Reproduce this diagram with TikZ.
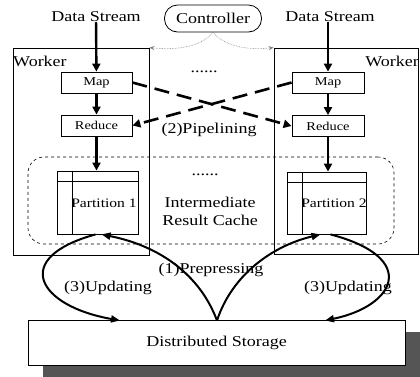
\documentclass[tikz,border=0pt]{standalone}
\usepackage{fontspec}
\usepackage{graphicx}
\setmainfont{Liberation Serif}
\usetikzlibrary{arrows.meta}
\definecolor{shadowgray}{HTML}{555555}
% labels are set slightly wide
\newcommand{\wtext}[1]{\scalebox{1.2}[1]{#1}}
\begin{document}
\begin{tikzpicture}[x=1pt,y=-1pt,
  txt/.style={inner sep=0pt,font=\fontsize{15}{17}\selectfont},
  smalltxt/.style={inner sep=0pt,font=\fontsize{12}{14}\selectfont},
  frame/.style={draw,line width=0.8pt,inner sep=0pt},
  flow/.style={line width=2.4pt,-{Triangle[length=8pt,width=8pt]}},
  pipe/.style={line width=2.6pt,dash pattern=on 15pt off 8pt,-{Triangle[length=8pt,width=8pt]}},
  ctrl/.style={densely dotted,line width=0.6pt,gray,-{Stealth[length=5pt,width=4pt]}},
  loop/.style={line width=2pt,-{Triangle[length=9pt,width=7pt]}}]
\useasboundingbox (0,0) rectangle (420,376);

% input streams and controller
\node[txt] (ds1) at (96,17) {\wtext{Data Stream}};
\node[txt] (ds2) at (330,17) {\wtext{Data Stream}};
\node[frame,rounded corners=13pt,minimum width=97,minimum height=27] (ctl) at (213,18.5) {};
\node[txt] (ctltxt) at (213,18.5) {\wtext{Controller}};

% worker frames
\node[frame,minimum width=136,minimum height=207] (w1) at (81,151.5) {};
\node[frame,minimum width=144,minimum height=206] (w2) at (346,151) {};
\node[txt,anchor=west] (w1l) at (13,61) {\wtext{Worker}};
\node[txt,anchor=east] (w2l) at (419,61) {\wtext{Worker}};

% intermediate result cache
\node[draw,dashed,line width=0.6pt,rounded corners=16pt,minimum width=366,minimum height=87,inner sep=0pt] (cache) at (211,200.5) {};

% map and reduce stages
\node[frame,minimum width=71,minimum height=21] (map1) at (96.5,82.5) {};
\node[smalltxt] at (map1) {\wtext{Map}};
\node[frame,minimum width=71,minimum height=21] (red1) at (96.5,125.5) {};
\node[smalltxt] at (red1) {\wtext{Reduce}};
\node[frame,minimum width=72,minimum height=21] (map2) at (328,82.5) {};
\node[smalltxt] at (map2) {\wtext{Map}};
\node[frame,minimum width=72,minimum height=21] (red2) at (328,126) {};
\node[smalltxt] at (red2) {\wtext{Reduce}};

% partitions drawn as small tables
\node[frame,minimum width=81,minimum height=63] (p1) at (97.5,202.5) {};
\draw[line width=0.8pt] ([xshift=16]p1.north west) -- ([xshift=16]p1.south west);
\draw[line width=0.8pt] ([yshift=-11]p1.north west) -- ([yshift=-11]p1.north east);
\node[txt,font=\fontsize{13}{15}\selectfont] (p1t) at (104,203) {\wtext{Partition 1}};
\node[frame,minimum width=79,minimum height=62] (p2) at (326.5,203) {};
\draw[line width=0.8pt] ([xshift=16]p2.north west) -- ([xshift=16]p2.south west);
\draw[line width=0.8pt] ([yshift=-11]p2.north west) -- ([yshift=-11]p2.north east);
\node[txt,font=\fontsize{13}{15}\selectfont] (p2t) at (334,203) {\wtext{Partition 2}};

% middle labels
\node[txt] (dots1) at (204,72) {\wtext{......}};
\node[txt] (pipetxt) at (209,130) {\wtext{(2)Pipelining}};
\node[txt] (dots2) at (205,175) {\wtext{......}};
\node[txt,align=center,font=\fontsize{15}{18}\selectfont] (cachetxt) at (210,211) {\wtext{Intermediate}\\\wtext{Result Cache}};

% distributed storage with drop shadow
\fill[shadowgray] (43,332) rectangle (440,390);
\node[frame,fill=white,minimum width=377,minimum height=45] (store) at (216.5,342.5) {};
\node[txt] (storetxt) at (store) {\wtext{Distributed Storage}};

% data flow inside each worker
\draw[flow] (ds1) -- (map1);
\draw[flow] (ds2.south -| map2.north) -- (map2);
\draw[flow] (map1) -- (red1);
\draw[flow] (map2) -- (red2);
\draw[flow] (red1) -- (red1 |- p1.north);
\draw[flow] (red2) -- (red2 |- p2.north);

% cross pipelining between workers
\draw[pipe] (map1.east) -- (red2.west);
\draw[pipe] (map2.west) -- (red1.east);

% controller links
\draw[ctrl] (ctl.south) .. controls (200,48) and (175,50) .. (w1.north east);
\draw[ctrl] (ctl.south) .. controls (226,48) and (252,50) .. (w2.north west);

% prepressing from storage and updating back to storage
\coordinate (stop) at (217,320.5);
\draw[loop] (stop) .. controls (200,275) and (160,246) .. ([xshift=4]p1.south);
\draw[loop] (stop) .. controls (232,275) and (272,246) .. ([xshift=-6]p2.south);
\draw[loop] ([xshift=-2]p1.south) .. controls (10,258) and (38,306) .. (120,320.5);
\draw[loop] ([xshift=4]p2.south) .. controls (420,258) and (395,306) .. (325,320.5);
\node[txt] (pretxt) at (211,270) {\wtext{(1)Prepressing}};
\node[txt] (upd1) at (108,288) {\wtext{(3)Updating}};
\node[txt] (upd2) at (348,288) {\wtext{(3)Updating}};
\end{tikzpicture}
\end{document}
